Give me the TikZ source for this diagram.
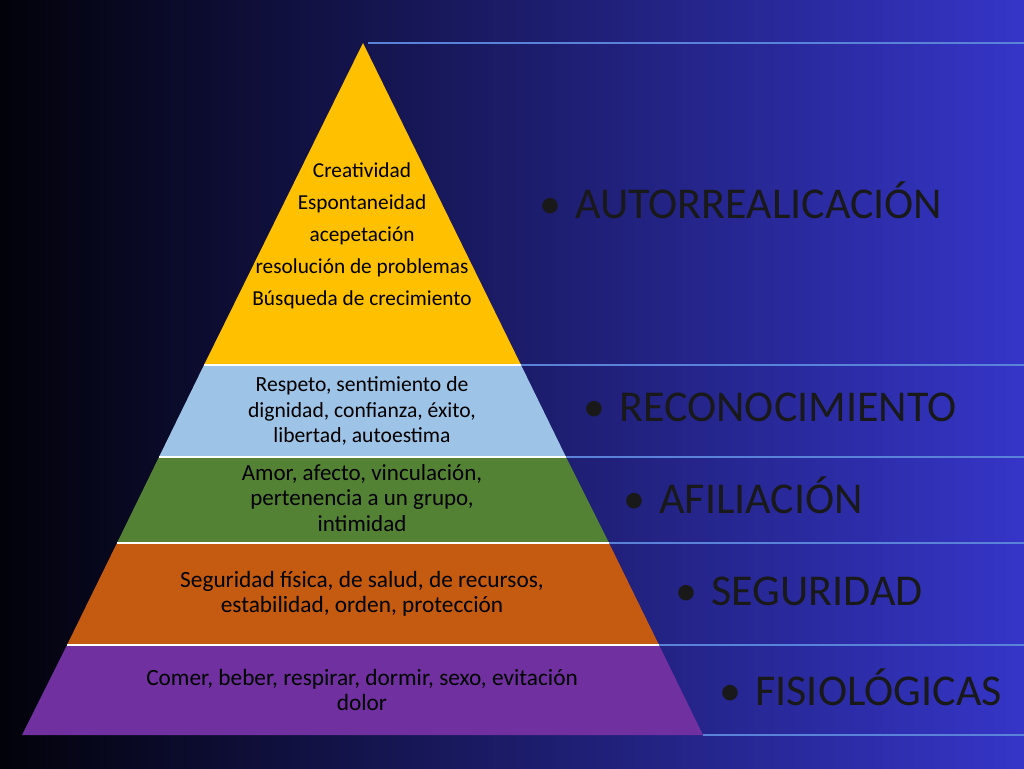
\documentclass[tikz,border=0pt]{standalone}
\usepackage{fontspec}
\setmainfont{Carlito}
\definecolor{cY}{HTML}{FFC000}
\definecolor{cB}{HTML}{9DC3E6}
\definecolor{cG}{HTML}{548235}
\definecolor{cO}{HTML}{C55A11}
\definecolor{cP}{HTML}{7030A0}
\definecolor{bgL}{HTML}{02020A}
\definecolor{bgR}{HTML}{3535C8}
\definecolor{lnC}{HTML}{5A82D8}
\begin{document}
\begin{tikzpicture}[x=1pt,y=-1pt,
  ptext/.style={align=center, text=black},
  lab/.style={font=\fontsize{44}{48}\selectfont, anchor=west, text=black!90},
  sep/.style={draw=lnC, line width=2pt},
  sepw/.style={draw=white, line width=1.5pt}]
\shade[left color=bgL, right color=bgR] (0,0) rectangle (1024,768);
\useasboundingbox (0,0) rectangle (1024,768);
% tiers
\fill[cY] (363,43) -- (521,365) -- (204,365) -- cycle;
\fill[cB] (204,365) -- (521,365) -- (566,457) -- (159,457) -- cycle;
\fill[cG] (159,457) -- (566,457) -- (609,543) -- (117,543) -- cycle;
\fill[cO] (117,543) -- (609,543) -- (659,645) -- (67,645) -- cycle;
\fill[cP] (67,645) -- (659,645) -- (703,735) -- (22,735) -- cycle;
\foreach \y/\xl/\xr in {365/204/521,457/159/566,543/117/609,645/67/659}
  \draw[sepw] (\xl,\y) -- (\xr,\y);
% separators
\foreach \y/\x in {43/368,365/521,457/566,543/609,645/659,735/703}
  \draw[sep] (\x,\y) -- (1024,\y);
% texts
\node[ptext, font=\fontsize{21.3}{32}\selectfont] (t1) at (362,236) {Creatividad\\Espontaneidad\\acepetación\\resolución de problemas\\Búsqueda de crecimiento};
\node[ptext, font=\fontsize{21.6}{25.5}\selectfont] (t2) at (362,411) {Respeto, sentimiento de\\dignidad, confianza, éxito,\\libertad, autoestima};
\node[ptext, font=\fontsize{23}{25.5}\selectfont] (t3) at (362,498) {Amor, afecto, vinculación,\\pertenencia a un grupo,\\intimidad};
\node[ptext, font=\fontsize{23.3}{25.5}\selectfont] (t4) at (362,594) {Seguridad física, de salud, de recursos,\\estabilidad, orden, protección};
\node[ptext, font=\fontsize{23.3}{25.5}\selectfont] (t5) at (362,690) {Comer, beber, respirar, dormir, sexo, evitación\\dolor};
\node[lab] (l1) at (536,200) {•\hspace{14pt}AUTORREALICACIÓN};
\node[lab] (l2) at (580,407) {•\hspace{14pt}RECONOCIMIENTO};
\node[lab] (l3) at (620,495) {•\hspace{14pt}AFILIACIÓN};
\node[lab] (l4) at (672,591) {•\hspace{14pt}SEGURIDAD};
\node[lab] (l5) at (716,687) {•\hspace{14pt}FISIOLÓGICAS};
\end{tikzpicture}
\end{document}
